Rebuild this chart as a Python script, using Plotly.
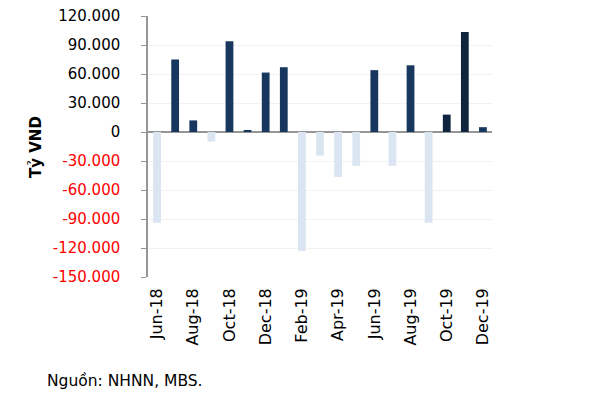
import plotly.graph_objects as go

months = ["Jun-18", "Jul-18", "Aug-18", "Sep-18", "Oct-18", "Nov-18", "Dec-18",
          "Jan-19", "Feb-19", "Mar-19", "Apr-19", "May-19", "Jun-19", "Jul-19",
          "Aug-19", "Sep-19", "Oct-19", "Nov-19", "Dec-19"]
values = [-94000, 75000, 12000, -10000, 94000, 2000, 61500, 67000, -123000,
          -24500, -46500, -35000, 64000, -35000, 69000, -94000, 18000, 103500, 5000]
ytick_vals = [120000, 90000, 60000, 30000, 0, -30000, -60000, -90000, -120000, -150000]
ytick_text = ["120.000", "90.000", "60.000", "30.000", "0", "-30.000", "-60.000",
              "-90.000", "-120.000", "-150.000"]
xtick_labels = months[::2]

dark = "#17375e"
darker = "#0f243e"
light = "#dbe5f1"
colors = []
for m, v in zip(months, values):
    if v < 0:
        colors.append(light)
    elif m in ("Oct-19", "Nov-19"):
        colors.append(darker)
    else:
        colors.append(dark)

fig = go.Figure(go.Bar(x=months, y=values, marker=dict(color=colors, line=dict(width=0)),
                       width=0.43))

ticktext = [f"<span style='color:red'>{t}</span>" if v < 0 else t
            for t, v in zip(ytick_text, ytick_vals)]

fig.update_layout(
    width=592, height=392,
    margin=dict(l=140, r=108, t=8, b=123, autoexpand=False),
    paper_bgcolor="white", plot_bgcolor="white",
    showlegend=False,
    font=dict(family="DejaVu Sans", color="black"),
    xaxis=dict(
        type="category", range=[-0.5, 18.5],
        tickmode="array", tickvals=xtick_labels, ticktext=xtick_labels,
        tickangle=-90, tickfont=dict(size=16), showgrid=False,
        showline=False, ticks="", ticklabelstandoff=7,
    ),
    yaxis=dict(
        range=[-150000, 120000],
        tickmode="array", tickvals=ytick_vals, ticktext=ticktext,
        tickfont=dict(size=15),
        showgrid=True, gridcolor="#f2f2f2", gridwidth=1,
        zeroline=True, zerolinecolor="#969696", zerolinewidth=2,
        showline=True, linecolor="#969696", linewidth=1.5,
        ticks="outside", ticklen=5, tickcolor="#969696",
        ticklabelstandoff=18, ticklabeloverflow="allow",
    ),
    annotations=[
        dict(text="<b>Tỷ VND</b>", xref="paper", yref="paper",
             x=-0.3256, y=0.498, xanchor="center", yanchor="middle",
             textangle=-90, showarrow=False, font=dict(size=15)),
        dict(text="Nguồn: NHNN, MBS.", xref="paper", yref="paper",
             x=-0.2994, y=-0.398, xanchor="left", yanchor="middle",
             showarrow=False, font=dict(size=15.5)),
    ],
)

fig.write_html("out.html")
